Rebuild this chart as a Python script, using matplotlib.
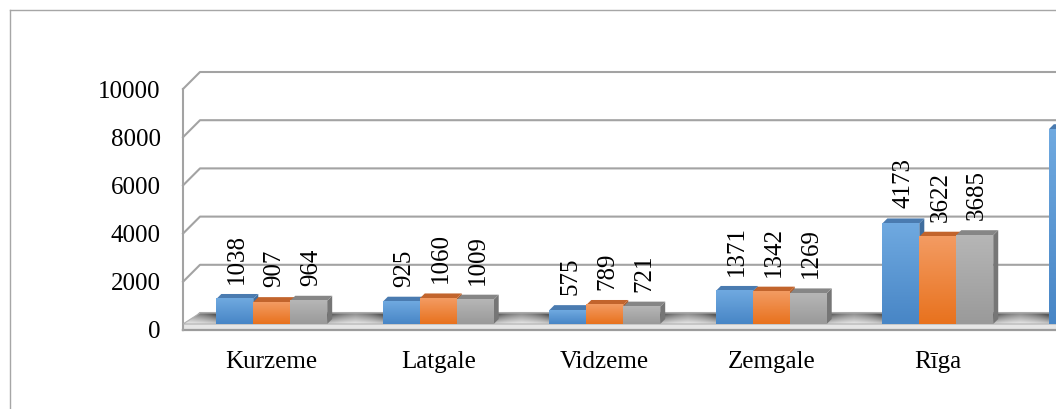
import numpy as np
import matplotlib
matplotlib.use("Agg")
import matplotlib.pyplot as plt
from matplotlib.patches import Polygon, Rectangle
from matplotlib.lines import Line2D

plt.rcParams['font.family'] = ['Liberation Serif', 'DejaVu Serif']

# data (last group "Latvija" is cut off by the frame on the right)
regions = ["Kurzeme", "Latgale", "Vidzeme", "Zemgale", "Rīga", "Latvija"]
series_1 = [1038, 925, 575, 1371, 4173, 8082]
series_2 = [907, 1060, 789, 1342, 3622, 7720]
series_3 = [964, 1009, 721, 1269, 3685, 7648]
y_ticks = [0, 2000, 4000, 6000, 8000, 10000]

# front colour (top, bottom), top face, side face
styles = [
    ("#6fa9e0", "#4886c6", "#4a7bb0", "#3f6d9e"),
    ("#f39b62", "#e8721e", "#c2642c", "#b35a24"),
    ("#b6b6b6", "#9a9a9a", "#868686", "#767676"),
]

W, H = 1056, 409
fig = plt.figure(figsize=(W / 100, H / 100), dpi=100)
ax = fig.add_axes([183 / W, 79 / H, 873 / W, 241 / H])
x0, x1 = -0.533, 4.71
ppx = 873 / (x1 - x0)
ppy = 241 / 10000

def dx(px):
    return px / ppx

def dy(px):
    return px / ppy

grid_col = "#a3a3a3"

# back wall gridlines with connectors on the side wall
for v in y_ticks:
    ax.plot([x0, x0 + dx(17), x1], [v, v + dy(17), v + dy(17)],
            color=grid_col, lw=1.5, clip_on=False, zorder=1)

# floor slab
slab = Rectangle((x0, 0), x1 - x0, dy(6), facecolor="#e6e6e6",
                 edgecolor="none", zorder=2)
ax.add_patch(slab)
ax.plot([x0, x1], [0, 0], color="#9c9c9c", lw=1.6, zorder=2.5, clip_on=False)
floor = Polygon([(x0, dy(6)), (x1, dy(6)), (x1, dy(17)), (x0 + dx(17), dy(17))],
                closed=True, facecolor="none", edgecolor="#b0b0b0", lw=0.8, zorder=2.6)
ax.add_patch(floor)

# floor shading: darker at the back and next to the bar groups
xs = np.linspace(x0, x1, 600)
ys = np.linspace(0, 1, 20)[:, None]
idx = np.round(xs)
dist = np.abs(np.abs(xs - idx) - 0.333)
shadow = np.exp(-dist / 0.12)
bright = 0.95 - 0.30 * ys - 0.28 * shadow[None, :] * (0.5 + ys)
bright = np.clip(bright, 0.35, 1)
img = np.dstack([bright, bright, bright])
im = ax.imshow(img, extent=(x0, x1, dy(6), dy(17)), origin="lower",
               aspect="auto", zorder=2.2, interpolation="bilinear")
im.set_clip_path(floor)

# bars
w = 0.222
bd = (dx(5), dy(5))
base = dy(6)
all_series = [series_1, series_2, series_3]
for i in range(len(regions)):
    for k, ser in enumerate(all_series):
        ftop, fbot, tcol, scol = styles[k]
        xl = i + (k - 1.5) * w
        xr = xl + w
        yt = base + ser[i]
        side = Polygon([(xr, base), (xr + bd[0], base + bd[1]),
                        (xr + bd[0], yt + bd[1]), (xr, yt)],
                       closed=True, facecolor=scol, edgecolor="none", zorder=3)
        ax.add_patch(side)
        top = Polygon([(xl, yt), (xr, yt), (xr + bd[0], yt + bd[1]),
                       (xl + bd[0], yt + bd[1])],
                      closed=True, facecolor=tcol, edgecolor="none", zorder=3)
        ax.add_patch(top)
        c1 = np.array(matplotlib.colors.to_rgb(ftop))
        c2 = np.array(matplotlib.colors.to_rgb(fbot))
        t = np.linspace(0, 1, 40)[:, None]
        grad = c1 * (1 - t) + c2 * t
        grad = np.repeat(grad[:, None, :], 2, axis=1)
        ax.imshow(grad, extent=(xl, xr, base, yt), origin="upper",
                  aspect="auto", zorder=3, interpolation="bilinear")
        xc = (xl + xr) / 2 + bd[0] / 2
        # labels of the cut-off group fall outside the frame
        if xc + dx(14) < x1:
            ax.text(xc, yt + bd[1] + dy(10), str(ser[i]),
                    rotation=90, ha="center", va="bottom", fontsize=18,
                    zorder=4)

ax.set_xlim(x0, x1)
ax.set_ylim(0, 10000)
ax.set_yticks(y_ticks)
ax.set_yticklabels([str(v) for v in y_ticks])
ax.set_xticks(range(5))
ax.set_xticklabels(regions[:5])
ax.tick_params(axis="y", length=0, pad=16, labelsize=18)
ax.tick_params(axis="x", length=0, pad=15, labelsize=18)
for s in ["top", "right", "bottom"]:
    ax.spines[s].set_visible(False)
ax.spines["left"].set_color(grid_col)
ax.spines["left"].set_linewidth(1.5)
ax.set_facecolor("none")

# outer chart border (right and bottom edges are cut off)
fig.add_artist(Line2D([10 / W, 10 / W], [0, 1 - 10 / H], transform=fig.transFigure,
                      color="#a6a6a6", lw=1))
fig.add_artist(Line2D([10 / W, 1], [1 - 10 / H, 1 - 10 / H], transform=fig.transFigure,
                      color="#a6a6a6", lw=1))

fig.savefig("out.png", dpi=100)
